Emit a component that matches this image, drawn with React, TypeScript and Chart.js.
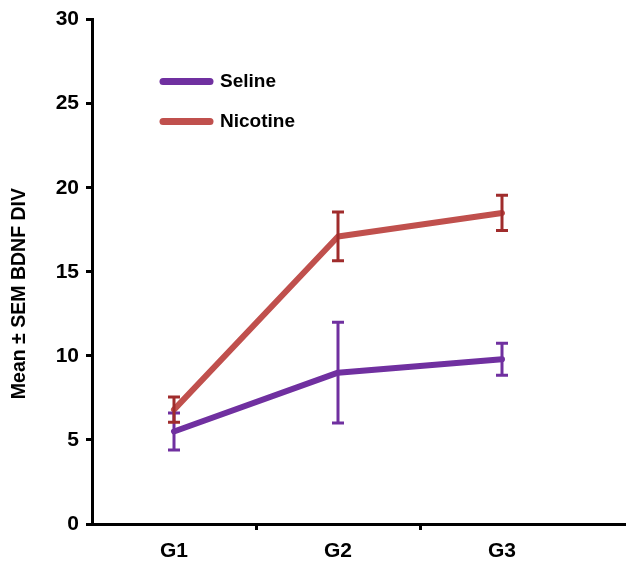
import React, { useEffect, useRef } from 'react';
import { Chart, registerables } from 'chart.js';

Chart.register(...registerables);

const categories = ['G1', 'G2', 'G3'];
const selineMean = [5.5, 9.0, 9.8];
const selineSem = [1.1, 3.0, 0.95];
const nicotineMean = [6.8, 17.1, 18.5];
const nicotineSem = [0.75, 1.45, 1.05];
const yMin = 0;
const yMax = 30;
const yStep = 5;
const yTitle = 'Mean \u00B1 SEM BDNF DIV';

const FONT = "'Liberation Sans', Arial, sans-serif";

const errorBarPlugin = {
  id: 'errorBars',
  afterDatasetsDraw(chart: any) {
    const ctx = chart.ctx;
    const yScale = chart.scales.y;
    chart.data.datasets.forEach((ds: any, di: number) => {
      const meta = chart.getDatasetMeta(di);
      ctx.save();
      ctx.strokeStyle = ds.errorColor;
      ctx.lineWidth = 3;
      ctx.lineCap = 'butt';
      meta.data.forEach((pt: any, i: number) => {
        const v = ds.data[i];
        const e = ds.errors[i];
        const x = pt.x;
        const yTop = yScale.getPixelForValue(v + e);
        const yBot = yScale.getPixelForValue(v - e);
        const cap = 6;
        ctx.beginPath();
        ctx.moveTo(x, yTop);
        ctx.lineTo(x, yBot);
        ctx.moveTo(x - cap, yTop);
        ctx.lineTo(x + cap, yTop);
        ctx.moveTo(x - cap, yBot);
        ctx.lineTo(x + cap, yBot);
        ctx.stroke();
      });
      ctx.restore();
    });
  },
};

const axisLinePlugin = {
  id: 'axisLine',
  afterDraw(chart: any) {
    const ctx = chart.ctx;
    const area = chart.chartArea;
    ctx.save();
    ctx.strokeStyle = '#000';
    ctx.lineWidth = 3;
    ctx.beginPath();
    const y = Math.round(area.bottom) + 0.5;
    ctx.moveTo(area.left - 3, y);
    ctx.lineTo(chart.width, y);
    ctx.stroke();
    ctx.restore();
  },
};

const yTitlePlugin = {
  id: 'yTitle',
  afterDraw(chart: any) {
    const ctx = chart.ctx;
    const area = chart.chartArea;
    ctx.save();
    ctx.translate(20, area.top + 274);
    ctx.rotate(-Math.PI / 2);
    ctx.fillStyle = '#000';
    ctx.font = `bold 19.5px ${FONT}`;
    ctx.textAlign = 'center';
    ctx.textBaseline = 'middle';
    ctx.fillText(yTitle, 0, 0);
    ctx.restore();
  },
};

const legendPlugin = {
  id: 'innerLegend',
  afterDraw(chart: any) {
    const ctx = chart.ctx;
    const area = chart.chartArea;
    ctx.save();
    chart.data.datasets.forEach((ds: any, i: number) => {
      const y = area.top + 62 + i * 40;
      const x0 = area.left + 71;
      const x1 = area.left + 118;
      ctx.strokeStyle = ds.borderColor;
      ctx.lineWidth = 7;
      ctx.lineCap = 'round';
      ctx.beginPath();
      ctx.moveTo(x0, y);
      ctx.lineTo(x1, y);
      ctx.stroke();
      ctx.fillStyle = '#000';
      ctx.font = `bold 19px ${FONT}`;
      ctx.textBaseline = 'middle';
      ctx.textAlign = 'left';
      ctx.fillText(ds.label, x1 + 10, y);
    });
    ctx.restore();
  },
};

export default function App() {
  const ref = useRef<HTMLCanvasElement>(null);
  useEffect(() => {
    document.body.style.margin = '0';
    const chart = new Chart(ref.current as HTMLCanvasElement, {
      type: 'line',
      data: {
        labels: categories,
        datasets: [
          {
            label: 'Seline',
            data: selineMean,
            errors: selineSem,
            borderColor: '#7030A0',
            errorColor: '#7030A0',
            borderWidth: 6,
            pointRadius: 0,
            tension: 0,
            borderJoinStyle: 'round',
            borderCapStyle: 'round',
          } as any,
          {
            label: 'Nicotine',
            data: nicotineMean,
            errors: nicotineSem,
            borderColor: '#C0504D',
            errorColor: '#A02C2C',
            borderWidth: 6,
            pointRadius: 0,
            tension: 0,
            borderJoinStyle: 'round',
            borderCapStyle: 'round',
          } as any,
        ],
      },
      options: {
        responsive: false,
        animation: false,
        layout: { padding: { top: 17, right: 42, left: 0, bottom: 0 } },
        plugins: { legend: { display: false }, tooltip: { enabled: false } },
        scales: {
          x: {
            type: 'category',
            offset: true,
            afterFit: (s: any) => { s.height = 39; },
            grid: {
              offset: true,
              drawOnChartArea: false,
              tickLength: 6,
              tickWidth: 3,
              tickColor: (c: any) => (c.type !== 'tick' || c.index === 0 ? 'rgba(0,0,0,0)' : '#000'),
            },
            border: { display: false },
            ticks: { color: '#000', font: { family: FONT, size: 21, weight: 'bold' }, padding: 9 },
          },
          y: {
            min: yMin,
            max: yMax,
            afterFit: (s: any) => { s.width = 92; },
            grid: { drawOnChartArea: false, tickLength: 6, tickWidth: 3, tickColor: '#000' },
            border: { color: '#000', width: 3 },
            ticks: { stepSize: yStep, color: '#000', font: { family: FONT, size: 21, weight: 'bold' }, padding: 7 },
          },
        },
      },
      plugins: [errorBarPlugin, axisLinePlugin, yTitlePlugin, legendPlugin],
    } as any);
    return () => chart.destroy();
  }, []);
  return (
    <div style={{ width: 626, height: 563 }}>
      <canvas ref={ref} width={626} height={563} style={{ display: 'block' }} />
    </div>
  );
}
